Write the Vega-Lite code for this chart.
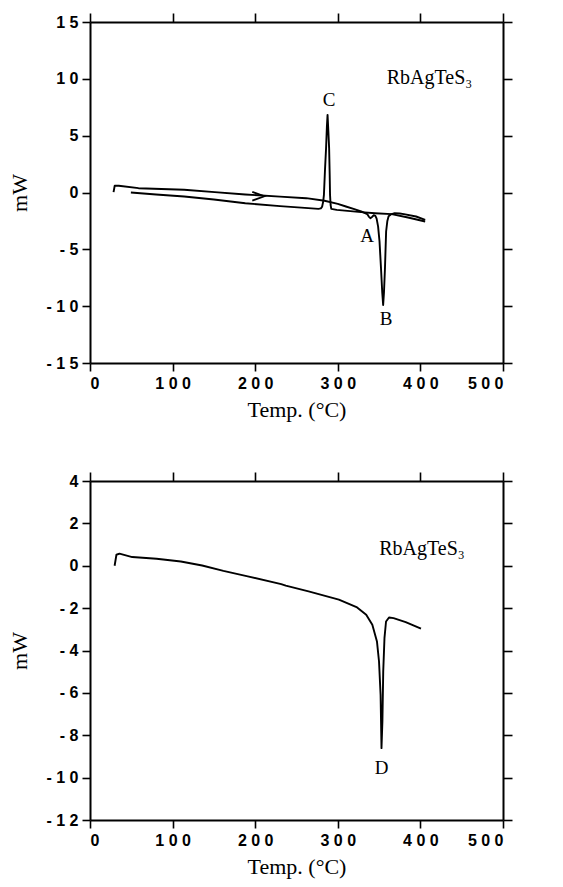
{
  "$schema": "https://vega.github.io/schema/vega-lite/v6.json",
  "background": "white",
  "padding": {"left": 8, "top": 12, "right": 5, "bottom": 5},
  "spacing": 118,
  "bounds": "flush",
  "config": {
    "view": {"stroke": null},
    "axis": {
      "grid": false,
      "domainColor": "black",
      "domainWidth": 2,
      "tickColor": "black",
      "tickWidth": 1.6,
      "tickSize": 8,
      "labelFont": "Liberation Sans",
      "labelFontSize": 16,
      "labelFontWeight": "bold",
      "labelColor": "black",
      "labelPadding": 4,
      "titleFont": "Liberation Serif",
      "titleFontSize": 22,
      "titleFontWeight": "normal",
      "titleColor": "black"
    }
  },
  "datasets": {
    "top": [
      {"run": "heating", "t": 28.5, "p": 0.03},
      {"run": "heating", "t": 29.9, "p": 0.59},
      {"run": "heating", "t": 34.8, "p": 0.59},
      {"run": "heating", "t": 58.7, "p": 0.38},
      {"run": "heating", "t": 114, "p": 0.24},
      {"run": "heating", "t": 151, "p": 0.03},
      {"run": "heating", "t": 188, "p": -0.17},
      {"run": "heating", "t": 230, "p": -0.36},
      {"run": "heating", "t": 261.8, "p": -0.5},
      {"run": "heating", "t": 284, "p": -0.73},
      {"run": "heating", "t": 300, "p": -1.0},
      {"run": "heating", "t": 309.8, "p": -1.23},
      {"run": "heating", "t": 320, "p": -1.47},
      {"run": "heating", "t": 328.3, "p": -1.67},
      {"run": "heating", "t": 335.6, "p": -1.9},
      {"run": "heating", "t": 337.5, "p": -2.12},
      {"run": "heating", "t": 339.4, "p": -2.26},
      {"run": "heating", "t": 341.5, "p": -2.15},
      {"run": "heating", "t": 343.5, "p": -2.0},
      {"run": "heating", "t": 345.5, "p": -2.05},
      {"run": "heating", "t": 347, "p": -2.3},
      {"run": "heating", "t": 348.8, "p": -3.0},
      {"run": "heating", "t": 350.5, "p": -4.3},
      {"run": "heating", "t": 352.3, "p": -6.66},
      {"run": "heating", "t": 353.8, "p": -8.8},
      {"run": "heating", "t": 354.9, "p": -9.9},
      {"run": "heating", "t": 355.9, "p": -8.8},
      {"run": "heating", "t": 357.1, "p": -6.66},
      {"run": "heating", "t": 358.5, "p": -3.43},
      {"run": "heating", "t": 360, "p": -2.5},
      {"run": "heating", "t": 361.5, "p": -2.1},
      {"run": "heating", "t": 365, "p": -1.9},
      {"run": "heating", "t": 368.9, "p": -1.82},
      {"run": "heating", "t": 375, "p": -1.85},
      {"run": "heating", "t": 380, "p": -1.9},
      {"run": "heating", "t": 394.8, "p": -2.11},
      {"run": "heating", "t": 405.8, "p": -2.4},
      {"run": "cooling", "t": 49.5, "p": 0},
      {"run": "cooling", "t": 80, "p": -0.18},
      {"run": "cooling", "t": 114, "p": -0.35},
      {"run": "cooling", "t": 150, "p": -0.62},
      {"run": "cooling", "t": 188, "p": -0.94},
      {"run": "cooling", "t": 230, "p": -1.2},
      {"run": "cooling", "t": 260, "p": -1.35},
      {"run": "cooling", "t": 276.6, "p": -1.44},
      {"run": "cooling", "t": 279.5, "p": -1.4},
      {"run": "cooling", "t": 281, "p": -1.25},
      {"run": "cooling", "t": 282.3, "p": -0.8},
      {"run": "cooling", "t": 283.2, "p": -0.2},
      {"run": "cooling", "t": 284.5, "p": 2.0},
      {"run": "cooling", "t": 285.8, "p": 3.9},
      {"run": "cooling", "t": 286.8, "p": 5.8},
      {"run": "cooling", "t": 287.6, "p": 6.83},
      {"run": "cooling", "t": 288.5, "p": 5.5},
      {"run": "cooling", "t": 289.5, "p": 3.9},
      {"run": "cooling", "t": 290.2, "p": 1.5},
      {"run": "cooling", "t": 290.6, "p": -0.2},
      {"run": "cooling", "t": 291.3, "p": -1.1},
      {"run": "cooling", "t": 292.1, "p": -1.44},
      {"run": "cooling", "t": 298.7, "p": -1.53},
      {"run": "cooling", "t": 328.3, "p": -1.73},
      {"run": "cooling", "t": 345, "p": -1.82},
      {"run": "cooling", "t": 365.2, "p": -1.9},
      {"run": "cooling", "t": 385, "p": -2.2},
      {"run": "cooling", "t": 405.8, "p": -2.55}
    ],
    "topLetters": [
      {"label": "C", "t": 289.5, "p": 8.15},
      {"label": "A", "t": 335.6, "p": -3.8},
      {"label": "B", "t": 358.5, "p": -11.1}
    ],
    "topName": [{"label": "RbAgTeS₃", "t": 411, "p": 10.05}],
    "arrow": [{"t": 211, "p": -0.33}],
    "bottom": [
      {"t": 29.8, "p": 0},
      {"t": 32, "p": 0.52},
      {"t": 35.7, "p": 0.57},
      {"t": 51.1, "p": 0.41},
      {"t": 80.6, "p": 0.33},
      {"t": 110, "p": 0.2},
      {"t": 135.8, "p": 0.01},
      {"t": 161.5, "p": -0.24},
      {"t": 191, "p": -0.5},
      {"t": 231.5, "p": -0.87},
      {"t": 237, "p": -0.94},
      {"t": 264.6, "p": -1.21},
      {"t": 301.3, "p": -1.6},
      {"t": 323.4, "p": -1.97},
      {"t": 334.4, "p": -2.31},
      {"t": 341.8, "p": -2.79},
      {"t": 347.4, "p": -3.57},
      {"t": 349.9, "p": -4.52},
      {"t": 351.8, "p": -6.09},
      {"t": 352.9, "p": -8.61},
      {"t": 354, "p": -7.35},
      {"t": 355, "p": -4.99},
      {"t": 356.5, "p": -3.42},
      {"t": 358.4, "p": -2.63},
      {"t": 362, "p": -2.44},
      {"t": 367.5, "p": -2.47},
      {"t": 382.2, "p": -2.66},
      {"t": 400.7, "p": -2.97}
    ],
    "bottomLetters": [{"label": "D", "t": 352.9, "p": -9.55}],
    "bottomName": [{"label": "RbAgTeS₃", "t": 402, "p": 0.8}]
  },
  "vconcat": [
    {
      "width": 413,
      "height": 341,
      "resolve": {"axis": {"x": "independent", "y": "independent"}},
      "layer": [
        {
          "data": {"name": "top"},
          "mark": {"type": "line", "color": "black", "strokeWidth": 1.9, "strokeJoin": "round"},
          "encoding": {
            "x": {"field": "t", "type": "quantitative",
              "scale": {"domain": [0, 500], "nice": false, "zero": false},
              "axis": {"orient": "bottom", "values": [0, 100, 200, 300, 400, 500], "title": "Temp. (°C)", "titlePadding": 8,
                "labelExpr": "(datum.value < 0 ? '-  ' : '') + join(split(toString(abs(datum.value)), ''), ' ')"}},
            "y": {"field": "p", "type": "quantitative",
              "scale": {"domain": [-15, 15], "nice": false, "zero": false},
              "axis": {"orient": "left", "values": [-15, -10, -5, 0, 5, 10, 15], "title": "mW", "titlePadding": 10,
                "labelExpr": "(datum.value < 0 ? '-  ' : '') + join(split(toString(abs(datum.value)), ''), ' ')"}},
            "detail": {"field": "run"}
          }
        },
        {
          "data": {"name": "topLetters"},
          "mark": {"type": "text", "font": "Liberation Serif", "fontSize": 19, "color": "black", "align": "center", "baseline": "middle"},
          "encoding": {
            "x": {"field": "t", "type": "quantitative",
              "axis": {"orient": "top", "values": [0, 100, 200, 300, 400, 500], "labels": false, "title": null, "tickSize": 9}},
            "y": {"field": "p", "type": "quantitative",
              "axis": {"orient": "right", "values": [-15, -10, -5, 0, 5, 10, 15], "labels": false, "title": null, "tickSize": 9}},
            "text": {"field": "label"}
          }
        },
        {
          "data": {"name": "topName"},
          "mark": {"type": "text", "font": "Liberation Serif", "fontSize": 20, "color": "black", "align": "center", "baseline": "middle"},
          "encoding": {
            "x": {"field": "t", "type": "quantitative", "axis": null},
            "y": {"field": "p", "type": "quantitative", "axis": null},
            "text": {"field": "label"}
          }
        },
        {
          "data": {"name": "arrow"},
          "mark": {"type": "point", "shape": "M-1,-0.36L0,0L-1,0.36", "size": 576, "filled": false, "stroke": "black", "strokeWidth": 1.8, "opacity": 1},
          "encoding": {
            "x": {"field": "t", "type": "quantitative", "axis": null},
            "y": {"field": "p", "type": "quantitative", "axis": null}
          }
        }
      ]
    },
    {
      "width": 413,
      "height": 339,
      "resolve": {"axis": {"x": "independent", "y": "independent"}},
      "layer": [
        {
          "data": {"name": "bottom"},
          "mark": {"type": "line", "color": "black", "strokeWidth": 1.9, "strokeJoin": "round"},
          "encoding": {
            "x": {"field": "t", "type": "quantitative",
              "scale": {"domain": [0, 500], "nice": false, "zero": false},
              "axis": {"orient": "bottom", "values": [0, 100, 200, 300, 400, 500], "title": "Temp. (°C)", "titlePadding": 8,
                "labelExpr": "(datum.value < 0 ? '-  ' : '') + join(split(toString(abs(datum.value)), ''), ' ')"}},
            "y": {"field": "p", "type": "quantitative",
              "scale": {"domain": [-12, 4], "nice": false, "zero": false},
              "axis": {"orient": "left", "values": [-12, -10, -8, -6, -4, -2, 0, 2, 4], "title": "mW", "titlePadding": 10,
                "labelExpr": "(datum.value < 0 ? '-  ' : '') + join(split(toString(abs(datum.value)), ''), ' ')"}}
          }
        },
        {
          "data": {"name": "bottomLetters"},
          "mark": {"type": "text", "font": "Liberation Serif", "fontSize": 19, "color": "black", "align": "center", "baseline": "middle"},
          "encoding": {
            "x": {"field": "t", "type": "quantitative",
              "axis": {"orient": "top", "values": [0, 100, 200, 300, 400, 500], "labels": false, "title": null, "tickSize": 9}},
            "y": {"field": "p", "type": "quantitative",
              "axis": {"orient": "right", "values": [-12, -10, -8, -6, -4, -2, 0, 2, 4], "labels": false, "title": null, "tickSize": 9}},
            "text": {"field": "label"}
          }
        },
        {
          "data": {"name": "bottomName"},
          "mark": {"type": "text", "font": "Liberation Serif", "fontSize": 20, "color": "black", "align": "center", "baseline": "middle"},
          "encoding": {
            "x": {"field": "t", "type": "quantitative", "axis": null},
            "y": {"field": "p", "type": "quantitative", "axis": null},
            "text": {"field": "label"}
          }
        }
      ]
    }
  ]
}
